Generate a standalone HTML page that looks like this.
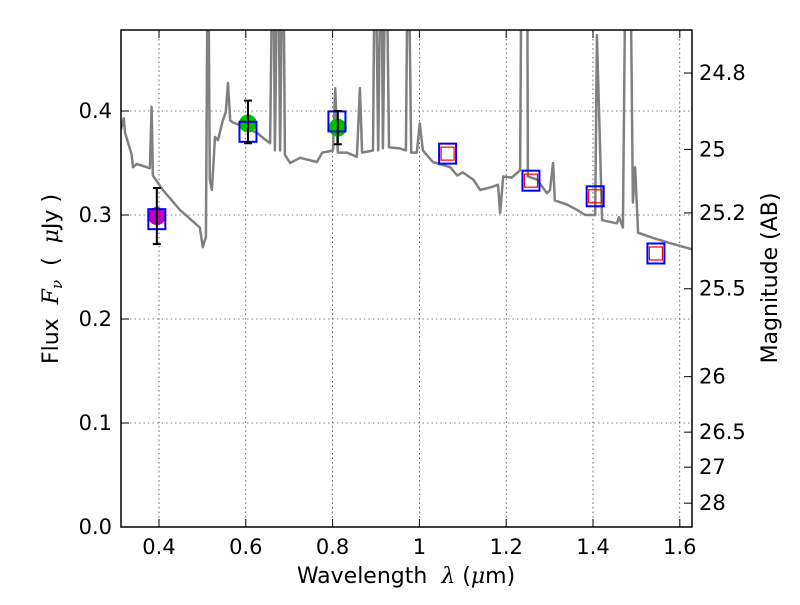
<!DOCTYPE html>
<html><head><meta charset="utf-8"><style>
body{margin:0;background:#fff}
svg{font-family:"DejaVu Sans","Liberation Sans",sans-serif}
</style></head><body>
<svg id="chart" width="800" height="600" viewBox="0 0 800 600">
<defs><clipPath id="pc"><rect x="121" y="30" width="571" height="497"/></clipPath></defs>
<g id="grid"></g>
<g id="spec" clip-path="url(#pc)"></g>
<g id="marks"></g>
<rect x="121" y="30" width="571" height="497" fill="none" stroke="#000" stroke-width="1.5"/>
<g id="axes"></g>
<text x="406" y="583" text-anchor="middle" font-size="22" xml:space="preserve">Wavelength  <tspan font-style="italic" font-family="DejaVu Serif,serif">λ</tspan> (<tspan font-style="italic" font-family="DejaVu Serif,serif">μ</tspan>m)</text>
<text transform="translate(58,279) rotate(-90)" text-anchor="middle" font-size="22" xml:space="preserve">Flux  <tspan font-style="italic" font-family="DejaVu Serif,serif">F<tspan font-size="15" dy="4">ν</tspan></tspan><tspan dy="-4">  (  </tspan><tspan font-style="italic" font-family="DejaVu Serif,serif">μ</tspan>Jy )</text>
<text transform="translate(777,278) rotate(-90)" text-anchor="middle" font-size="22">Magnitude (AB)</text>
</svg>
<script>
const specWave=[0.312,0.319,0.322,0.337,0.340,0.349,0.372,0.379,0.383,0.386,0.409,0.448,0.494,0.501,0.508,0.513,0.517,0.522,0.529,0.536,0.547,0.554,0.559,0.564,0.570,0.594,0.610,0.626,0.640,0.656,0.663,0.667,0.674,0.679,0.686,0.690,0.702,0.725,0.764,0.776,0.801,0.806,0.812,0.833,0.856,0.863,0.868,0.893,0.898,0.905,0.912,0.916,0.923,0.930,0.955,0.969,0.974,0.981,0.994,1.001,1.008,1.031,1.071,1.087,1.100,1.124,1.140,1.167,1.181,1.186,1.193,1.213,1.232,1.236,1.248,1.250,1.271,1.294,1.301,1.308,1.312,1.340,1.363,1.382,1.405,1.409,1.421,1.455,1.460,1.469,1.476,1.485,1.492,1.497,1.504,1.538,1.577,1.628];
const specFlux=[0.382,0.393,0.379,0.358,0.346,0.349,0.346,0.345,0.404,0.338,0.324,0.305,0.288,0.269,0.279,0.6,0.334,0.324,0.375,0.372,0.391,0.399,0.427,0.391,0.389,0.385,0.382,0.379,0.374,0.369,0.6,0.362,0.6,0.362,0.6,0.358,0.350,0.355,0.351,0.360,0.362,0.422,0.360,0.360,0.356,0.422,0.360,0.362,0.6,0.362,0.6,0.364,0.6,0.365,0.364,0.362,0.6,0.360,0.360,0.388,0.362,0.351,0.346,0.338,0.341,0.334,0.324,0.327,0.329,0.302,0.337,0.336,0.343,0.6,0.6,0.337,0.334,0.321,0.324,0.350,0.314,0.310,0.305,0.300,0.300,0.473,0.295,0.292,0.298,0.288,0.6,0.6,0.312,0.346,0.283,0.278,0.273,0.267];
const obsWave=[0.395,0.605,0.812];
const obsFlux=[0.299,0.388,0.384];
const obsErrLo=[0.272,0.369,0.368];
const obsErrHi=[0.326,0.410,0.400];
const obsColor=['#bf00bf','#00bf00','#00bf00'];
const modWave=[0.395,0.605,0.81,1.065,1.257,1.405,1.545];
const modFlux=[0.296,0.380,0.390,0.359,0.333,0.318,0.263];
const redWave=[1.065,1.257,1.405,1.545];
const redFlux=[0.359,0.333,0.318,0.263];
const xTicks=[0.4,0.6,0.8,1.0,1.2,1.4,1.6];
const xTickLabels=['0.4','0.6','0.8','1','1.2','1.4','1.6'];
const yTicks=[0,0.1,0.2,0.3,0.4];
const yTickLabels=['0.0','0.1','0.2','0.3','0.4'];
const magTicks=[24.8,25,25.2,25.5,26,26.5,27,28];
const magTickLabels=['24.8','25','25.2','25.5','26','26.5','27','28'];

const X=v=>159+(v-0.4)*434;
const Y=v=>527-v*1040;
const magY=m=>Y(Math.pow(10,(23.9-m)/2.5));
const NS='http://www.w3.org/2000/svg';
function mk(tag,attrs,parent){const e=document.createElementNS(NS,tag);for(const k in attrs)e.setAttribute(k,attrs[k]);parent.appendChild(e);return e;}
const grid=document.getElementById('grid'),axes=document.getElementById('axes'),spec=document.getElementById('spec'),marks=document.getElementById('marks');

xTicks.forEach((t,i)=>{
  let l=mk('line',{x1:X(t),x2:X(t),y1:30,y2:527,stroke:'#000','stroke-width':0.6,'stroke-dasharray':'1.5,3'},grid);
  
  
  mk('line',{x1:X(t),x2:X(t),y1:527,y2:519,stroke:'#000'},axes);
  mk('line',{x1:X(t),x2:X(t),y1:30,y2:38,stroke:'#000'},axes);
  let tx=mk('text',{x:X(t),y:554,'text-anchor':'middle','font-size':21},axes);
  tx.textContent=xTickLabels[i];
  
  
});
yTicks.forEach((t,i)=>{
  let l=mk('line',{x1:121,x2:692,y1:Y(t),y2:Y(t),stroke:'#000','stroke-width':0.6,'stroke-dasharray':'1.5,3'},grid);
  
  
  mk('line',{x1:121,x2:129,y1:Y(t),y2:Y(t),stroke:'#000'},axes);
  let tx=mk('text',{x:112,y:Y(t)+7,'text-anchor':'end','font-size':21},axes);
  tx.textContent=yTickLabels[i];
  
  
});
magTicks.forEach((m,i)=>{
  const y=magY(m);
  mk('line',{x1:692,x2:684,y1:y,y2:y,stroke:'#000'},axes);
  let tx=mk('text',{x:699,y:y+7,'font-size':21},axes);
  tx.textContent=magTickLabels[i];
  
  
});
let pts=specWave.map((w,i)=>X(w).toFixed(1)+','+Y(specFlux[i]).toFixed(1)).join(' ');
let pl=mk('polyline',{points:pts,fill:'none',stroke:'#808080','stroke-width':2.5,'stroke-linejoin':'round'},spec);



obsWave.forEach((w,i)=>{
  let c=mk('circle',{cx:X(w),cy:Y(obsFlux[i]),r:9,fill:obsColor[i]},marks);
  
  
});
modWave.forEach((w,i)=>{
  let r=mk('rect',{x:X(w)-8.5,y:Y(modFlux[i])-10,width:17,height:20,fill:'none',stroke:'#0000ff','stroke-width':2},marks);
  
  
});
redWave.forEach((w,i)=>{
  let r=mk('rect',{x:X(w)-6.5,y:Y(redFlux[i])-6.5,width:13,height:13,fill:'none',stroke:'#ff0000','stroke-width':1.2},marks);
  
  
});
obsWave.forEach((w,i)=>{
  const x=X(w);
  let g=mk('g',{stroke:'#000','stroke-width':2},marks);
  
  
  mk('line',{x1:x,x2:x,y1:Y(obsErrLo[i]),y2:Y(obsErrHi[i])},g);
  mk('line',{x1:x-4,x2:x+4,y1:Y(obsErrLo[i]),y2:Y(obsErrLo[i])},g);
  mk('line',{x1:x-4,x2:x+4,y1:Y(obsErrHi[i]),y2:Y(obsErrHi[i])},g);
});
</script>
</body></html>
